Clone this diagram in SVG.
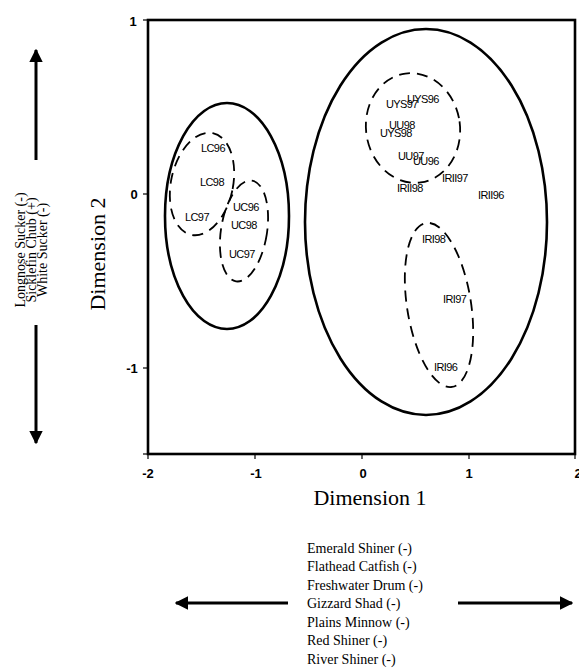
<svg xmlns="http://www.w3.org/2000/svg" width="579" height="668" viewBox="0 0 579 668">
<defs>
<style>
.frame{fill:none;stroke:#000;stroke-width:2.6}
.tick{stroke:#000;stroke-width:1.2}
.solid{fill:none;stroke:#000;stroke-width:2.6}
.dash{fill:none;stroke:#000;stroke-width:1.8;stroke-dasharray:11 7}
.lbl{font-family:"Liberation Sans",Arial,sans-serif;font-size:11px;letter-spacing:-0.6px;fill:#000}
.tk{font-family:"Liberation Sans",Arial,sans-serif;font-size:13px;font-weight:bold;fill:#000;text-anchor:middle}
.ax{font-family:"Liberation Serif","Times New Roman",serif;font-size:22px;fill:#000;text-anchor:middle}
.sp{font-family:"Liberation Serif","Times New Roman",serif;font-size:14px;fill:#000}
.arr{stroke:#000;stroke-width:3;fill:none}
</style>
<marker id="ah" viewBox="0 0 10 10" refX="9" refY="5" markerWidth="4.5" markerHeight="4.5" orient="auto" markerUnits="strokeWidth">
<path d="M0,0 L10,5 L0,10 Z" fill="#000"/>
</marker>
</defs>
<rect width="579" height="668" fill="#fff"/>

<g id="axes">
<rect class="frame" x="148" y="20" width="427" height="434"/>
<line class="tick" x1="148" y1="454" x2="148" y2="459"/>
<line class="tick" x1="255" y1="454" x2="255" y2="459"/>
<line class="tick" x1="362" y1="454" x2="362" y2="459"/>
<line class="tick" x1="469" y1="454" x2="469" y2="459"/>
<line class="tick" x1="575" y1="454" x2="575" y2="459"/>
<line class="tick" x1="143" y1="20" x2="148" y2="20"/>
<line class="tick" x1="143" y1="194" x2="148" y2="194"/>
<line class="tick" x1="143" y1="368" x2="148" y2="368"/>
<line class="tick" x1="143" y1="454" x2="148" y2="454"/>
<text class="tk" x="148" y="478">-2</text>
<text class="tk" x="256" y="478">-1</text>
<text class="tk" x="363" y="478">0</text>
<text class="tk" x="469" y="478">1</text>
<text class="tk" x="578" y="478">2</text>
<text class="tk" x="133" y="26">1</text>
<text class="tk" x="134" y="199">0</text>
<text class="tk" x="132" y="373">-1</text>
<text class="ax" x="370" y="505">Dimension 1</text>
<text class="ax" transform="translate(105,254) rotate(-90)">Dimension 2</text>
</g>

<g id="group-left">
<ellipse class="solid" cx="227" cy="216" rx="62" ry="113"/>
</g>
<g id="group-LC">
<ellipse class="dash" cx="202" cy="184" rx="31" ry="52" transform="rotate(12 202 184)"/>
<text class="lbl" x="201" y="152">LC96</text>
<text class="lbl" x="200" y="186">LC98</text>
<text class="lbl" x="185" y="221">LC97</text>
</g>
<g id="group-UC">
<ellipse class="dash" cx="244" cy="231" rx="23" ry="51" transform="rotate(9 244 231)"/>
<text class="lbl" x="233" y="211">UC96</text>
<text class="lbl" x="231" y="229">UC98</text>
<text class="lbl" x="229" y="258">UC97</text>
</g>

<g id="group-right">
<ellipse class="solid" cx="426" cy="222" rx="121" ry="193"/>
</g>
<g id="group-UY">
<ellipse class="dash" cx="413" cy="128" rx="47" ry="55" transform="rotate(-8 413 128)"/>
<text class="lbl" x="407" y="103">UYS96</text>
<text class="lbl" x="386" y="108">UYS97</text>
<text class="lbl" x="389" y="129">UU98</text>
<text class="lbl" x="380" y="137">UYS98</text>
<text class="lbl" x="398" y="160">UU97</text>
<text class="lbl" x="413" y="165">UU96</text>
</g>
<g id="group-IRII">
<text class="lbl" x="442" y="182">IRII97</text>
<text class="lbl" x="397" y="192">IRII98</text>
<text class="lbl" x="478" y="199">IRII96</text>
</g>
<g id="group-IRI">
<ellipse class="dash" cx="439" cy="305" rx="32" ry="83" transform="rotate(-9 439 305)"/>
<text class="lbl" x="422" y="243">IRI98</text>
<text class="lbl" x="443" y="303">IRI97</text>
<text class="lbl" x="434" y="371">IRI96</text>
</g>

<g id="species-dim2">
<text class="sp" text-anchor="middle" transform="translate(25,250) rotate(-90)">Longnose Sucker (-)</text>
<text class="sp" text-anchor="middle" transform="translate(36,250) rotate(-90)">Sicklefin Chub (+)</text>
<text class="sp" text-anchor="middle" transform="translate(47,250) rotate(-90)">White Sucker (-)</text>
</g>

<g id="species-dim1">
<text class="sp" x="307" y="553">Emerald Shiner (-)</text>
<text class="sp" x="307" y="571">Flathead Catfish (-)</text>
<text class="sp" x="307" y="590">Freshwater Drum (-)</text>
<text class="sp" x="307" y="608">Gizzard Shad (-)</text>
<text class="sp" x="307" y="627">Plains Minnow (-)</text>
<text class="sp" x="307" y="645">Red Shiner (-)</text>
<text class="sp" x="307" y="664">River Shiner (-)</text>
</g>

<g id="connectors">
<line class="arr" x1="36" y1="160" x2="36" y2="50" marker-end="url(#ah)"/>
<line class="arr" x1="36" y1="325" x2="36" y2="443" marker-end="url(#ah)"/>
<line class="arr" x1="288" y1="603" x2="176" y2="603" marker-end="url(#ah)"/>
<line class="arr" x1="458" y1="603" x2="572" y2="603" marker-end="url(#ah)"/>
</g>
</svg>
